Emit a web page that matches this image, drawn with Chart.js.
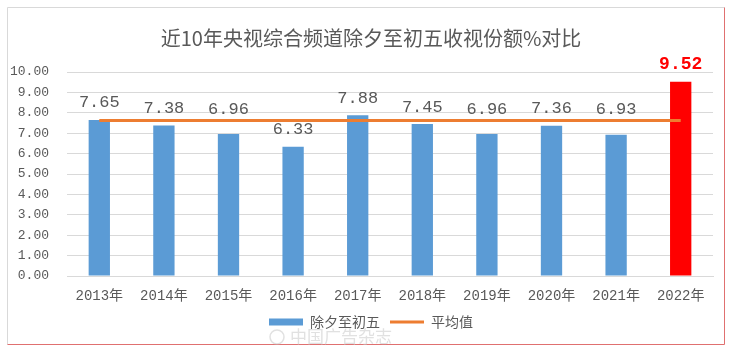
<!DOCTYPE html>
<html>
<head>
<meta charset="utf-8">
<script src="https://cdn.jsdelivr.net/npm/chart.js@4/dist/chart.umd.min.js"></script>
<style>
  html, body { margin: 0; padding: 0; background: #fff; }
  #wrap { width: 735px; height: 352px; }
</style>
</head>
<body>
<div id="wrap"><canvas id="chart" width="735" height="352"></canvas></div>
<script>
(function () {
  'use strict';

  // 数据
  var years = ['2013年', '2014年', '2015年', '2016年', '2017年', '2018年', '2019年', '2020年', '2021年', '2022年'];
  var shares = [7.65, 7.38, 6.96, 6.33, 7.88, 7.45, 6.96, 7.36, 6.93, 9.52];
  var averageLine = [7.62, 7.62, 7.62, 7.62, 7.62, 7.62, 7.62, 7.62, 7.62, 7.62];
  var barColors = ['#5B9BD5', '#5B9BD5', '#5B9BD5', '#5B9BD5', '#5B9BD5', '#5B9BD5', '#5B9BD5', '#5B9BD5', '#5B9BD5', '#FF0000'];

  var grey = '#595959';
  var mono = "'Liberation Mono', 'Noto Sans CJK SC', monospace";
  var cjk = "'Noto Sans CJK SC', sans-serif";

  // 边框 + 水印
  var framePlugin = {
    id: 'frame',
    beforeDraw: function (chart) {
      var c = chart.ctx;
      c.save();
      c.fillStyle = '#fff';
      c.fillRect(0, 0, chart.width, chart.height);
      c.lineWidth = 1;
      c.strokeStyle = '#d9d9d9';
      c.beginPath();
      c.moveTo(7.5, 344.5); c.lineTo(7.5, 7.5); c.lineTo(724.5, 7.5);
      c.stroke();
      c.strokeStyle = '#e07070';
      c.beginPath();
      c.moveTo(724.5, 7.5); c.lineTo(724.5, 344.5); c.lineTo(7.5, 344.5);
      c.stroke();
      c.restore();
    },
    afterDraw: function (chart) {
      var c = chart.ctx;
      c.save();
      c.fillStyle = 'rgba(200,200,200,0.55)';
      c.font = '17px ' + cjk;
      c.textBaseline = 'middle';
      c.fillText('中国广告杂志', 290, 337);
      c.strokeStyle = 'rgba(200,200,200,0.55)';
      c.lineWidth = 1.5;
      c.beginPath();
      c.arc(277, 337, 7, 0, Math.PI * 2);
      c.stroke();
      c.restore();
    }
  };

  // 数据标签：放在柱顶上方，碰到平均线就挪到线上方
  var labelPlugin = {
    id: 'barLabels',
    afterDatasetsDraw: function (chart) {
      var c = chart.ctx;
      var bars = chart.getDatasetMeta(0).data;
      var avg = chart.getDatasetMeta(1).data;
      c.save();
      c.textAlign = 'center';
      c.textBaseline = 'middle';
      bars.forEach(function (bar, i) {
        var last = i === shares.length - 1;
        var y = bar.y - 17;
        var lineY = avg[i].y;
        if (!last && Math.abs(y - lineY) < 8.5) y = lineY - 11;
        c.fillStyle = last ? '#FF0000' : grey;
        c.font = last ? 'bold 18px ' + mono : '17px ' + mono;
        c.fillText(shares[i].toFixed(2), bar.x, y);
      });
      c.restore();
    }
  };

  var ctx = document.getElementById('chart');
  new Chart(ctx.getContext('2d'), {
    type: 'bar',
    data: {
      labels: years,
      datasets: [{
        label: '除夕至初五',
        data: shares,
        backgroundColor: barColors,
        categoryPercentage: 1,
        barPercentage: 0.33,
        order: 2
      }, {
        type: 'line',
        label: '平均值',
        data: averageLine,
        borderColor: '#ED7D31',
        borderWidth: 3,
        pointRadius: 0,
        fill: false,
        order: 1
      }]
    },
    options: {
      responsive: false,
      animation: false,
      layout: { padding: { left: 8, right: 1, top: 8, bottom: 13 } },
      scales: {
        x: {
          grid: { display: false, drawTicks: false },
          border: { color: '#d9d9d9' },
          ticks: { color: grey, font: { family: mono, size: 14 }, padding: 12 },
          afterFit: function (s) { s.height = 29; }
        },
        y: {
          min: 0,
          max: 10,
          ticks: {
            stepSize: 1,
            autoSkip: false,
            color: grey,
            font: { family: mono, size: 13 },
            padding: 18,
            callback: function (v) { return Number(v).toFixed(2); }
          },
          grid: { color: '#d9d9d9', drawTicks: false },
          border: { display: false },
          afterFit: function (s) { s.width = 59; }
        },
        // 右侧留白
        y2: {
          position: 'right',
          grid: { display: false, drawTicks: false },
          ticks: { display: false },
          border: { display: false },
          afterFit: function (s) { s.width = 21; }
        }
      },
      plugins: {
        title: {
          display: true,
          text: '近10年央视综合频道除夕至初五收视份额%对比',
          color: grey,
          font: { family: cjk, size: 20, weight: 'normal' },
          padding: { top: 18, bottom: 22 }
        },
        legend: {
          position: 'bottom',
          labels: {
            usePointStyle: true,
            pointStyleWidth: 34,
            boxHeight: 7,
            padding: 10,
            color: grey,
            font: { family: cjk, size: 14 },
            generateLabels: function () {
              return [
                { text: '除夕至初五', fillStyle: '#5B9BD5', strokeStyle: '#5B9BD5', lineWidth: 0, pointStyle: 'rect', datasetIndex: 0, fontColor: grey },
                { text: '平均值', fillStyle: '#ED7D31', strokeStyle: '#ED7D31', lineWidth: 3, pointStyle: 'line', datasetIndex: 1, fontColor: grey }
              ];
            }
          }
        },
        tooltip: { enabled: false }
      }
    },
    plugins: [framePlugin, labelPlugin]
  });
})();
</script>
</body>
</html>
